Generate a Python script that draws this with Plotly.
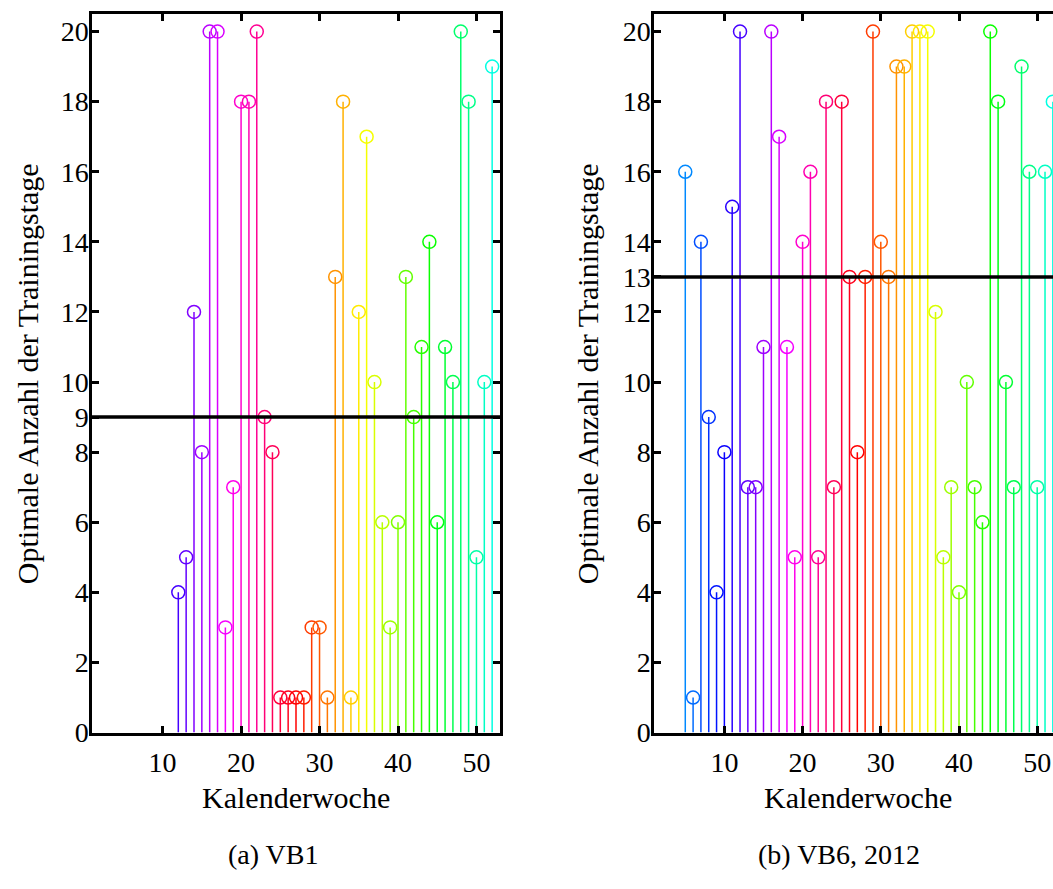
import colorsys
import plotly.graph_objects as go

# Kalenderwoche und optimale Anzahl der Trainingstage, VB1
weeks_vb1 = list(range(12, 53))
days_vb1 = [4, 5, 12, 8, 20, 20, 3, 7, 18, 18, 20, 9, 8, 1, 1, 1, 1, 3, 3, 1,
            13, 18, 1, 12, 17, 10, 6, 3, 6, 13, 9, 11, 14, 6, 11, 10, 20, 18,
            5, 10, 19]
threshold_vb1 = 9

# Kalenderwoche und optimale Anzahl der Trainingstage, VB6 (2012)
weeks_vb6 = list(range(5, 53))
days_vb6 = [16, 1, 14, 9, 4, 8, 15, 20, 7, 7, 11, 20, 17, 11, 5, 14, 16, 5,
            18, 7, 18, 13, 8, 13, 20, 14, 13, 19, 19, 20, 20, 20, 12, 5, 7, 4,
            10, 7, 6, 20, 18, 10, 7, 19, 16, 7, 16, 18]
threshold_vb6 = 13

captions = ["(a) VB1", "(b) VB6, 2012"]
x_title = "Kalenderwoche"
y_title = "Optimale Anzahl der Trainingstage"
x_ticks = [10, 20, 30, 40, 50]
y_ticks = [0, 2, 4, 6, 8, 10, 12, 14, 16, 18, 20]

FONT = "Liberation Serif"
W, H = 1053, 889


def week_color(w):
    # HSV colour wheel over the 52 weeks, week 27 at pure red
    h = ((w - 27) / 52.0) % 1.0
    r, g, b = colorsys.hsv_to_rgb(h, 1.0, 1.0)
    return "rgb(%d,%d,%d)" % (round(r * 255), round(g * 255), round(b * 255))


fig = go.Figure()


def add_stems(weeks, days, xa, ya):
    for w, d in zip(weeks, days):
        fig.add_trace(go.Scatter(
            x=[w, w], y=[0, d], mode="lines",
            line=dict(color=week_color(w), width=1.5),
            xaxis=xa, yaxis=ya, showlegend=False, hoverinfo="skip",
            cliponaxis=False))
    fig.add_trace(go.Scatter(
        x=weeks, y=days, mode="markers",
        marker=dict(symbol="circle-open", size=13,
                    color=[week_color(w) for w in weeks],
                    line=dict(width=1.5)),
        xaxis=xa, yaxis=ya, showlegend=False, cliponaxis=False))


add_stems(weeks_vb1, days_vb1, "x", "y")
add_stems(weeks_vb6, days_vb6, "x2", "y2")

y_dom = [(H - 746) / H, (H - 14.3) / H]
x1_dom = [92 / W, 500 / W]
x2_dom = [654 / W, 1.0]

tick_font = dict(family=FONT, size=28, color="black")
axis_common = dict(showgrid=False, zeroline=False, showline=True,
                   linecolor="black", linewidth=2.5, ticks="inside",
                   ticklen=7, tickwidth=2.5, tickcolor="black",
                   tickfont=tick_font)

fig.update_layout(
    width=W, height=H,
    margin=dict(l=0, r=0, t=0, b=0),
    paper_bgcolor="white", plot_bgcolor="white",
    showlegend=False,
    xaxis=dict(domain=x1_dom, range=[1, 53], tickvals=x_ticks,
               mirror="ticks", anchor="y", ticklabelstandoff=3,
               **axis_common),
    yaxis=dict(domain=y_dom, range=[0, 20.5],
               tickvals=sorted(y_ticks + [threshold_vb1]),
               mirror="ticks", anchor="x", ticklabelstandoff=-5,
               **axis_common),
    xaxis2=dict(domain=x2_dom, range=[1, 52.02], tickvals=x_ticks,
                mirror="ticks", anchor="y2", ticklabelstandoff=3,
                **axis_common),
    yaxis2=dict(domain=y_dom, range=[0, 20.5],
                tickvals=sorted(y_ticks + [threshold_vb6]),
                mirror=False, anchor="x2", ticklabelstandoff=-5,
                **axis_common),
)

# Schwellenwerte als dicke horizontale Linien
for xref, yref, thr in (("x domain", "y", threshold_vb1),
                        ("x2 domain", "y2", threshold_vb6)):
    fig.add_shape(type="line", xref=xref, yref=yref, x0=0, x1=1,
                  y0=thr, y1=thr, line=dict(color="black", width=3.5),
                  layer="above")

title_font = dict(family=FONT, size=30, color="black")

# Achsentitel
fig.add_annotation(text=x_title, xref="paper", yref="paper",
                   x=296 / W, y=(H - 812) / H, showarrow=False,
                   font=title_font, xanchor="center", yanchor="middle")
fig.add_annotation(text=x_title, xref="paper", yref="paper",
                   x=858 / W, y=(H - 812) / H, showarrow=False,
                   font=title_font, xanchor="center", yanchor="middle")
fig.add_annotation(text=y_title, xref="paper", yref="paper",
                   x=27 / W, y=(H - 381) / H, showarrow=False, textangle=-90,
                   font=title_font, xanchor="center", yanchor="middle")
fig.add_annotation(text=y_title, xref="paper", yref="paper",
                   x=587 / W, y=(H - 381) / H, showarrow=False, textangle=-90,
                   font=title_font, xanchor="center", yanchor="middle")

# Bildunterschriften
cap_font = dict(family=FONT, size=28, color="black")
fig.add_annotation(text=captions[0], xref="paper", yref="paper",
                   x=273 / W, y=(H - 870) / H, showarrow=False,
                   font=cap_font, xanchor="center", yanchor="middle")
fig.add_annotation(text=captions[1], xref="paper", yref="paper",
                   x=839 / W, y=(H - 870) / H, showarrow=False,
                   font=cap_font, xanchor="center", yanchor="middle")

fig.write_html("out.html")
